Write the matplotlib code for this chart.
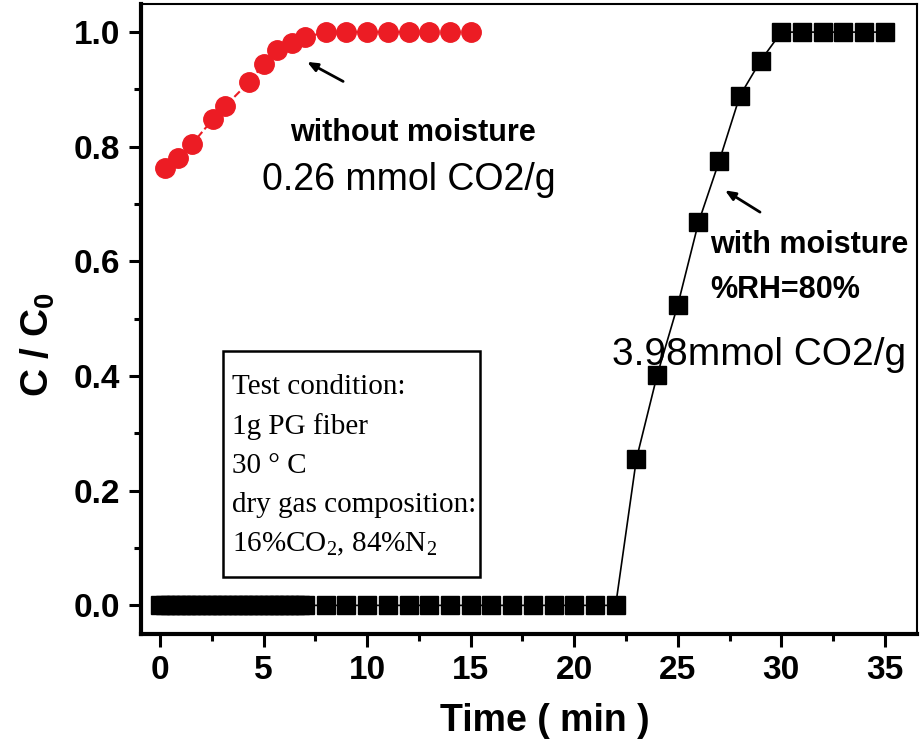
import matplotlib
matplotlib.use('Agg')
import matplotlib.pyplot as plt
from matplotlib.patches import Rectangle
from matplotlib.ticker import MultipleLocator

# --- data ---
# without moisture (red circles)
dry_time = [0.25, 0.85, 1.55, 2.55, 3.15, 4.3, 5.0, 5.65, 6.35, 7.0,
            8, 9, 10, 11, 12, 13, 14, 15]
dry_ratio = [0.763, 0.780, 0.805, 0.848, 0.871, 0.913, 0.944, 0.969, 0.981, 0.991,
             1.0, 1.0, 1.0, 1.0, 1.0, 1.0, 1.0, 1.0]

# with moisture, %RH=80% (black squares); dense sampling for the first 7 min
wet_time = [0, 0.25, 0.5, 0.75, 1, 1.25, 1.5, 1.75, 2, 2.25, 2.5, 2.75,
            3, 3.25, 3.5, 3.75, 4, 4.25, 4.5, 4.75, 5, 5.25, 5.5, 5.75,
            6, 6.25, 6.5, 6.75, 7,
            8, 9, 10, 11, 12, 13, 14, 15, 16, 17, 18, 19, 20, 21, 22,
            23, 24, 25, 26, 27, 28, 29, 30, 31, 32, 33, 34, 35]
wet_ratio = [0.0] * 29 + [0.0] * 15 + \
            [0.255, 0.401, 0.524, 0.668, 0.775, 0.889, 0.950,
             1.0, 1.0, 1.0, 1.0, 1.0, 1.0]

x_ticks = [0, 5, 10, 15, 20, 25, 30, 35]
y_ticks = [0.0, 0.2, 0.4, 0.6, 0.8, 1.0]

SANS = 'Liberation Sans'
SERIF = 'Liberation Serif'

fig = plt.figure(figsize=(9.24, 7.44), dpi=100)
ax = fig.add_axes([0.1526, 0.1478, 0.8398, 0.8468])

ax.plot(dry_time, dry_ratio, ls='--', lw=1.5, color='#ec1c24',
        marker='o', ms=14, mfc='#ec1c24', mec='#ec1c24', zorder=3)
ax.plot(wet_time, wet_ratio, ls='-', lw=1.2, color='black',
        marker='s', ms=13.5, mfc='black', mec='black', zorder=3)

ax.set_xlim(-0.92, 36.55)
ax.set_ylim(-0.05, 1.049)
ax.set_xticks(x_ticks)
ax.set_yticks(y_ticks)
ax.set_xticklabels([str(t) for t in x_ticks])
ax.set_yticklabels([f'{t:.1f}' for t in y_ticks])
ax.xaxis.set_minor_locator(MultipleLocator(2.5))
ax.yaxis.set_minor_locator(MultipleLocator(0.1))

ax.tick_params(which='major', direction='out', length=9, width=2.2, pad=6,
               top=False, right=False)
ax.tick_params(which='minor', direction='out', length=5, width=2.2,
               top=False, right=False)
for lab in ax.get_xticklabels() + ax.get_yticklabels():
    lab.set_fontfamily(SANS)
    lab.set_fontweight('bold')
    lab.set_fontsize(24)

for side in ('left', 'bottom'):
    ax.spines[side].set_linewidth(3)
for side in ('top', 'right'):
    ax.spines[side].set_linewidth(1.5)

ax.set_xlabel('Time ( min )', fontfamily=SANS, fontweight='bold', fontsize=27)
ax.set_ylabel(r'C / C$\mathregular{_0}$', fontfamily=SANS, fontweight='bold',
              fontsize=28)
ax.xaxis.set_label_coords(0.52, -0.11)
ax.yaxis.set_label_coords(-0.108, 0.46)

# annotations
ax.text(6.28, 0.824, 'without moisture', fontfamily=SANS, fontweight='bold',
        fontsize=22, ha='left', va='center')
ax.text(4.93, 0.742, '0.26 mmol CO2/g', fontfamily=SANS, fontsize=27,
        ha='left', va='center')
ax.text(26.56, 0.628, 'with moisture', fontfamily=SANS, fontweight='bold',
        fontsize=22, ha='left', va='center')
ax.text(26.56, 0.55, '%RH=80%', fontfamily=SANS, fontweight='bold',
        fontsize=22, ha='left', va='center')
ax.text(21.83, 0.436, '3.98mmol CO2/g', fontfamily=SANS, fontsize=28,
        ha='left', va='center')

arrow = dict(arrowstyle='-|>,head_length=0.6,head_width=0.25', lw=2, color='black',
             shrinkA=0, shrinkB=0)
ax.annotate('', xy=(7.10, 0.948), xytext=(8.84, 0.914), arrowprops=arrow)
ax.annotate('', xy=(27.28, 0.724), xytext=(28.97, 0.686), arrowprops=arrow)

# test condition box
ax.add_patch(Rectangle((3.04, 0.049), 12.41, 0.394, fill=False, ec='black',
                       lw=1.8, zorder=4))
box_text = ('Test condition:\n1g PG fiber\n30 \u00b0 C\ndry gas composition:\n'
            r'16%CO$\mathregular{_2}$, 84%N$\mathregular{_2}$')
ax.text(3.48, 0.404, box_text, fontfamily=SERIF, fontsize=21, ha='left',
        va='top', linespacing=1.64, zorder=4)

fig.savefig('out.png', dpi=100)
